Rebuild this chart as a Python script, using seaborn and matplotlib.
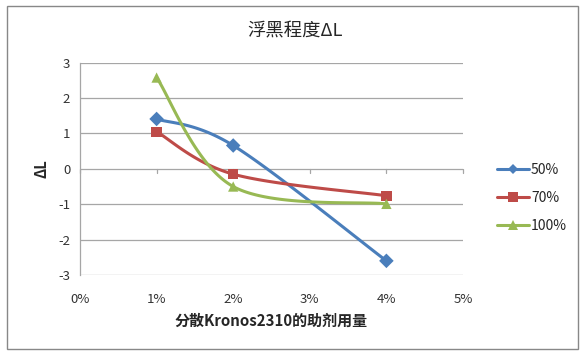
import numpy as np
import pandas as pd
import matplotlib
matplotlib.use('Agg')
import matplotlib.pyplot as plt
from matplotlib.lines import Line2D
from matplotlib.patches import Rectangle
import seaborn as sns

# data
dosage = [1, 2, 4]  # % of additive
series_names = ['50%', '70%', '100%']
s50 = [1.41, 0.66, -2.60]
s70 = [1.05, -0.15, -0.76]
s100 = [2.58, -0.50, -0.99]
x_ticks = [0, 1, 2, 3, 4, 5]
x_tick_labels = ['0%', '1%', '2%', '3%', '4%', '5%']
y_ticks = [-3, -2, -1, 0, 1, 2, 3]

colors = ['#4A7EBB', '#BE4B48', '#98B954']
markers = ['D', 's', '^']

sns.set_style('white')
plt.rcParams['font.family'] = ['Noto Sans CJK SC', 'DejaVu Sans']
plt.rcParams['axes.unicode_minus'] = False

df = pd.DataFrame({'x': dosage * 3,
                   'y': s50 + s70 + s100,
                   'series': [n for n in series_names for _ in dosage]})


def excel_smooth(xs, ys, n=60):
    # Bezier smoothing similar to Excel's "smoothed line"
    p = np.column_stack([xs, ys]).astype(float)
    pts = []
    for i in range(len(p) - 1):
        p0 = p[i - 1] if i > 0 else p[i]
        p1, p2 = p[i], p[i + 1]
        p3 = p[i + 2] if i + 2 < len(p) else p[i + 1]
        c1 = p1 + (p2 - p0) / 6
        c2 = p2 - (p3 - p1) / 6
        t = np.linspace(0, 1, n)[:, None]
        seg = ((1 - t) ** 3) * p1 + 3 * ((1 - t) ** 2) * t * c1 + 3 * (1 - t) * t ** 2 * c2 + t ** 3 * p2
        pts.append(seg)
    pts = np.vstack(pts)
    return pts[:, 0], pts[:, 1]


fig = plt.figure(figsize=(5.87, 3.58), dpi=100)
ax = fig.add_axes([80 / 587, 1 - 275 / 358, 383 / 587, 212.3 / 358])

for y in y_ticks:
    ax.axhline(y, color='#A6A6A6', lw=0.9, zorder=0)

for name, c in zip(series_names, colors):
    sub = df[df['series'] == name]
    sx, sy = excel_smooth(sub['x'].values, sub['y'].values)
    ax.plot(sx, sy, color=c, lw=2.2, zorder=2, solid_capstyle='round')

sns.scatterplot(data=df, x='x', y='y', hue='series', style='series',
                palette=dict(zip(series_names, colors)),
                markers=dict(zip(series_names, markers)),
                s=55, edgecolor=None, linewidth=0,
                legend=False, ax=ax, zorder=3)

ax.set_xlim(0, 5)
ax.set_ylim(-3, 3)
ax.set_xticks(x_ticks)
ax.set_xticklabels(x_tick_labels)
ax.set_yticks(y_ticks)
ax.tick_params(axis='x', length=0, labelsize=9.5, colors='#333333', pad=13)
ax.tick_params(axis='y', length=4, width=0.9, color='#A6A6A6', labelsize=9.5,
               colors='#333333', pad=3)
for sp in ['top', 'right', 'bottom']:
    ax.spines[sp].set_visible(False)
ax.spines['left'].set_color('#A6A6A6')
ax.spines['left'].set_linewidth(0.9)

# tick marks on the zero line like Excel's category axis
for xt in x_ticks:
    ax.plot([xt, xt], [0, -0.11], color='#A6A6A6', lw=0.9, zorder=1, clip_on=False)

ax.set_xlabel('分散Kronos2310的助剂用量', fontsize=10.8, fontweight='bold', labelpad=5)
ax.set_ylabel('ΔL', fontsize=10.5, fontweight='bold', labelpad=6)
fig.text(0.503, 1 - 31 / 358, '浮黑程度ΔL', ha='center', va='center', fontsize=13.2)

handles = [Line2D([0], [0], color=c, lw=2.2, marker=m, markersize=7 if m != 'D' else 5.5,
                  markeredgewidth=0) for c, m in zip(colors, markers)]
fig.legend(handles, series_names, loc='center left', bbox_to_anchor=(490 / 587, 1 - 198 / 358),
           frameon=False, fontsize=10, handlelength=2.3, handletextpad=0.15,
           labelspacing=1.0, borderpad=0)

fig.patches.append(Rectangle((7 / 587, 1 - 349 / 358), 571 / 587, 343 / 358,
                             transform=fig.transFigure, fill=False,
                             edgecolor='#888888', lw=1.0))

fig.savefig('out.png', dpi=100)
